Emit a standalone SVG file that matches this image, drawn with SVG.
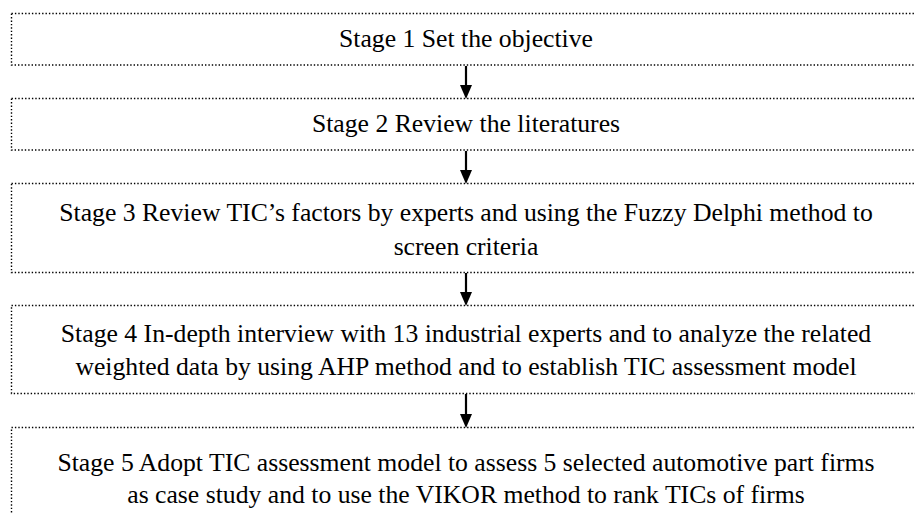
<svg xmlns="http://www.w3.org/2000/svg" width="915" height="513" viewBox="0 0 915 513">
<defs>
<style>
.box{fill:none;stroke:#000;stroke-width:1.4;stroke-dasharray:1.4 2}
text{font-family:'Liberation Serif','Times New Roman',Times,serif;font-size:25.7px;fill:#000;text-anchor:middle}
.arr{stroke:#000;stroke-width:2.2;fill:none}
</style>
</defs>
<rect width="915" height="513" fill="#fff"/>
<g id="stage1">
<rect class="box" x="11.5" y="13.5" width="920" height="51.5"/>
<text x="466" y="47" font-family="Liberation Serif, serif">Stage 1 Set the objective</text>
</g>
<g id="stage2">
<rect class="box" x="11.5" y="98.5" width="920" height="51.5"/>
<text x="466" y="132" font-family="Liberation Serif, serif">Stage 2 Review the literatures</text>
</g>
<g id="stage3">
<rect class="box" x="11.5" y="183.5" width="920" height="89"/>
<text x="466" y="221" font-family="Liberation Serif, serif">Stage 3 Review TIC’s factors by experts and using the Fuzzy Delphi method to</text>
<text x="466" y="255" font-family="Liberation Serif, serif">screen criteria</text>
</g>
<g id="stage4">
<rect class="box" x="11.5" y="305.5" width="920" height="88"/>
<text x="466" y="342" font-family="Liberation Serif, serif">Stage 4 In-depth interview with 13 industrial experts and to analyze the related</text>
<text x="466" y="375" font-family="Liberation Serif, serif">weighted data by using AHP method and to establish TIC assessment model</text>
</g>
<g id="stage5">
<rect class="box" x="11.5" y="427.5" width="920" height="100"/>
<text x="466" y="471" font-family="Liberation Serif, serif">Stage 5 Adopt TIC assessment model to assess 5 selected automotive part firms</text>
<text x="466" y="503" font-family="Liberation Serif, serif">as case study and to use the VIKOR method to rank TICs of firms</text>
</g>
<g id="connectors">
<line class="arr" x1="466" y1="66" x2="466" y2="86"/>
<path d="M460,85 L472,85 L466,99 Z" fill="#000"/>
<line class="arr" x1="466" y1="151" x2="466" y2="171"/>
<path d="M460,170 L472,170 L466,184 Z" fill="#000"/>
<line class="arr" x1="466" y1="273" x2="466" y2="293"/>
<path d="M460,292 L472,292 L466,306 Z" fill="#000"/>
<line class="arr" x1="466" y1="394" x2="466" y2="415"/>
<path d="M460,414 L472,414 L466,428 Z" fill="#000"/>
</g>
</svg>
